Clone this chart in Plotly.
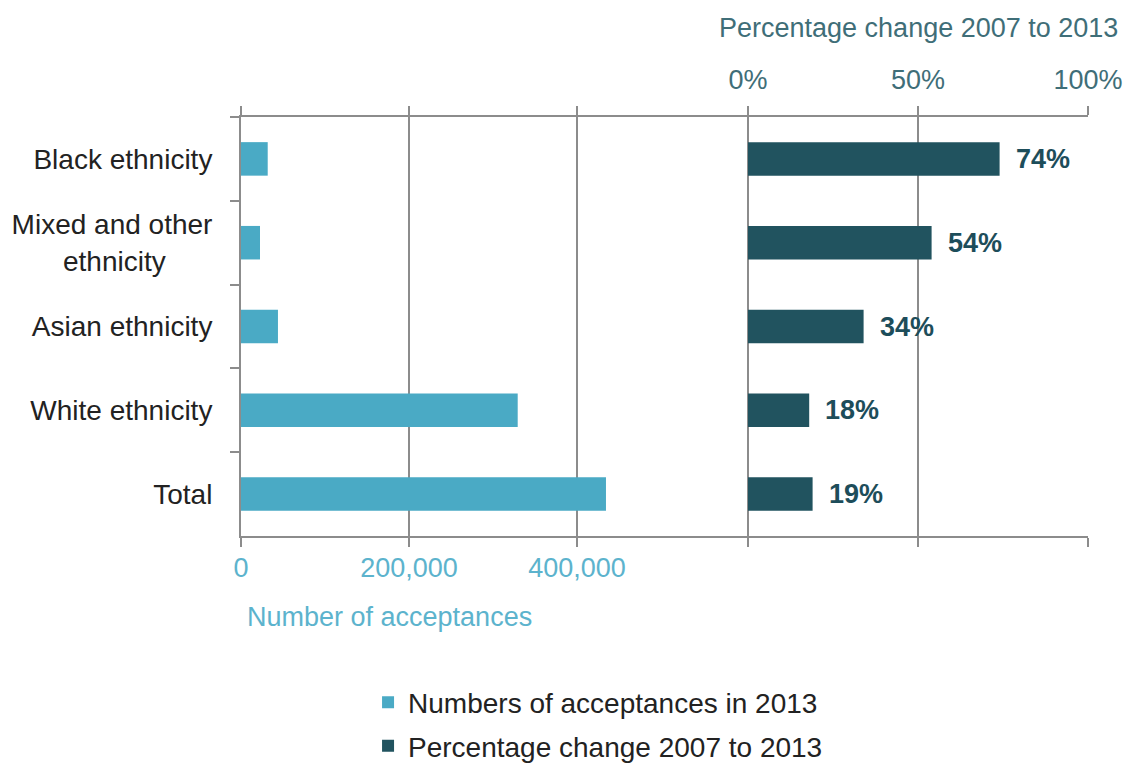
import plotly.graph_objects as go

# palette
LIGHT_TEAL = "#4aaac5"
DARK_TEAL  = "#21535f"
AXIS_BLUE  = "#5cb3cd"
TOP_TEXT   = "#3f6e78"
BODY_TEXT  = "#222222"
GRID_GRAY  = "#8c8c8c"
FONT       = "Liberation Sans, Arial, sans-serif"

NBSP = "\u00a0"
categories = [
    "Black ethnicity",
    "Mixed and other<br>ethnicity" + NBSP * 6,
    "Asian ethnicity",
    "White ethnicity",
    "Total",
]
acceptances_2013 = [31800, 22600, 44000, 329400, 434500]
pct_change       = [74, 54, 34, 18, 19]
pct_labels       = ["74%", "54%", "34%", "18%", "19%"]

count_ticks   = [0, 200000, 400000]
count_labels  = ["0", "200,000", "400,000"]
pct_ticks     = [0, 50, 100]
pct_ticklabs  = ["0%", "50%", "100%"]

# plot area: 847 px wide; 200,000 = 168 px; 100% = 340 px, with 0% at 507 px
COUNT_MAX = 847 / 168 * 200000
PCT_MIN   = -507 / 340 * 100

fig = go.Figure()
fig.add_trace(go.Bar(
    x=acceptances_2013, y=categories, orientation="h",
    name="Numbers of acceptances in 2013", legendgroup="a",
    marker=dict(color=LIGHT_TEAL, line=dict(width=0)),
    xaxis="x", yaxis="y", hoverinfo="x+y",
))
fig.add_trace(go.Bar(
    x=pct_change, y=categories, orientation="h",
    name="Percentage change 2007 to 2013", legendgroup="b",
    marker=dict(color=DARK_TEAL, line=dict(width=0)),
    xaxis="x2", yaxis="y", hoverinfo="x+y",
))

# bold value labels just past the end of each percentage bar
for cat, val, lab in zip(categories, pct_change, pct_labels):
    fig.add_annotation(
        x=val, y=cat, xref="x2", yref="y", text=f"<b>{lab}</b>",
        showarrow=False, xanchor="left", xshift=14,
        font=dict(size=27, color="#1d4d5a", family=FONT),
    )

# axis captions
fig.add_annotation(
    x=50, xref="x2", y=1.213, yref="paper", text="Percentage change 2007 to 2013",
    showarrow=False, xanchor="center", yanchor="middle",
    font=dict(size=27, color=TOP_TEXT, family=FONT),
)
fig.add_annotation(
    x=0, xref="x", y=-0.194, yref="paper", text="Number of acceptances",
    showarrow=False, xanchor="left", yanchor="middle", xshift=4,
    font=dict(size=27, color=AXIS_BLUE, family=FONT),
)

# the page body adds an 8 px offset, so margins are trimmed by 8 on top/left
fig.update_layout(
    width=1144, height=765,
    paper_bgcolor="white", plot_bgcolor="white",
    font=dict(family=FONT, color=BODY_TEXT, size=27),
    margin=dict(l=233, r=64, t=109, b=237, autoexpand=False),
    barmode="overlay", bargap=0.6,
    showlegend=True,
    legend=dict(
        x=0.15, y=-0.338, xanchor="left", yanchor="top",
        traceorder="grouped", tracegroupgap=4,
        font=dict(size=28, color=BODY_TEXT),
        itemwidth=30,
    ),
    xaxis=dict(
        range=[0, COUNT_MAX], side="bottom", automargin=False,
        tickvals=count_ticks, ticktext=count_labels,
        tickfont=dict(color=AXIS_BLUE, size=27),
        ticks="outside", ticklen=9, tickwidth=2, tickcolor=GRID_GRAY,
        showline=True, linecolor=GRID_GRAY, linewidth=2, mirror="ticks",
        showgrid=True, gridcolor=GRID_GRAY, gridwidth=2,
        zeroline=False, ticklabelstandoff=-2,
    ),
    xaxis2=dict(
        range=[PCT_MIN, 100], overlaying="x", side="top", automargin=False,
        tickvals=pct_ticks, ticktext=pct_ticklabs,
        tickfont=dict(color=TOP_TEXT, size=27),
        ticks="outside", ticklen=9, tickwidth=2, tickcolor=GRID_GRAY,
        showline=True, linecolor=GRID_GRAY, linewidth=2, mirror="ticks",
        showgrid=True, gridcolor=GRID_GRAY, gridwidth=2,
        zeroline=False, ticklabelstandoff=6,
    ),
    yaxis=dict(
        autorange="reversed", type="category", automargin=False,
        tickson="boundaries", ticks="outside", ticklen=9, tickwidth=2,
        tickcolor=GRID_GRAY,
        showline=True, linecolor=GRID_GRAY, linewidth=2,
        showgrid=False, zeroline=False,
        tickfont=dict(color=BODY_TEXT, size=28),
        ticklabelstandoff=21,
    ),
)

fig.write_html("out.html")
